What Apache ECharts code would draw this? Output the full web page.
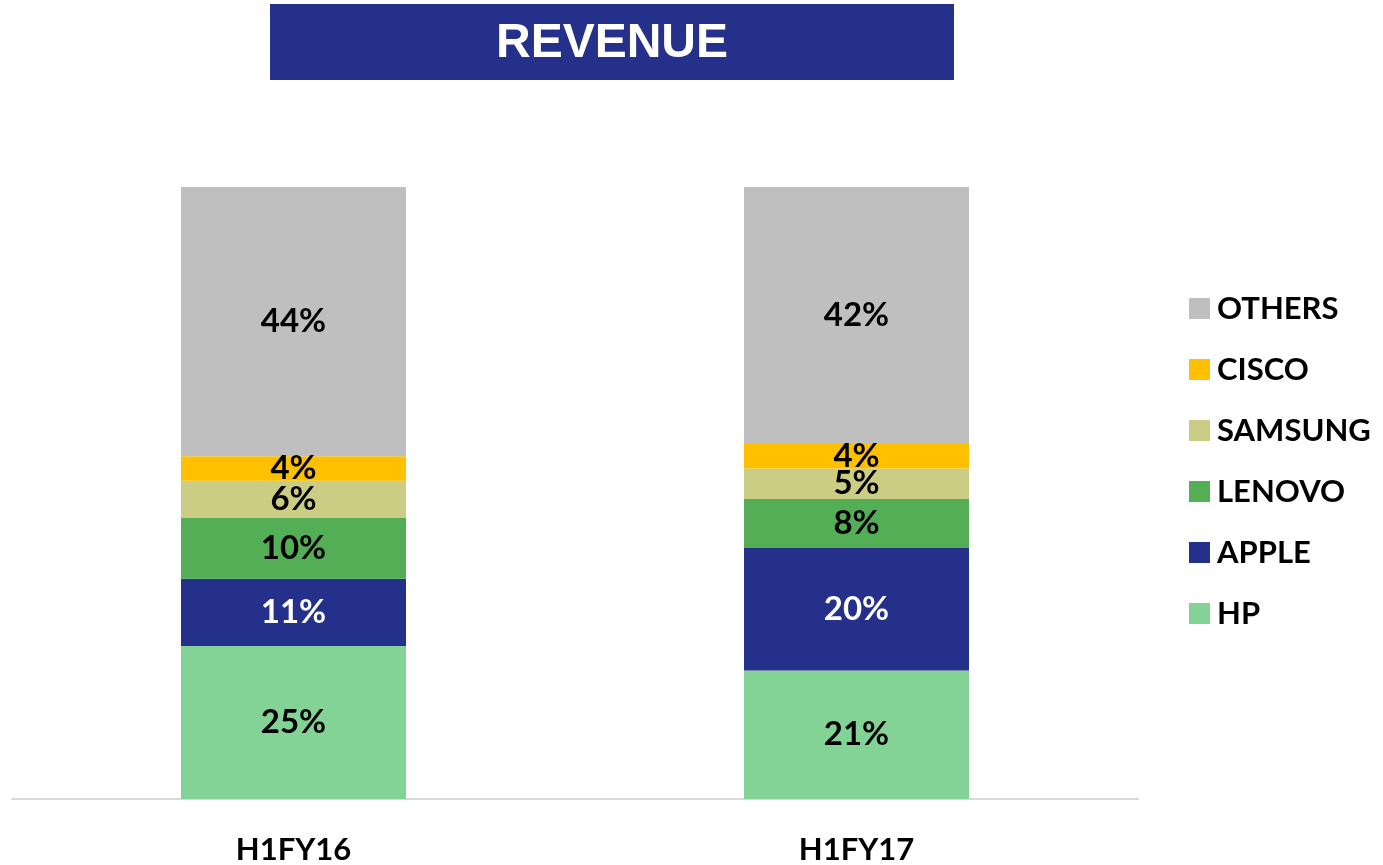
<!DOCTYPE html>
<html>
<head>
<meta charset="utf-8">
<script src="https://cdn.jsdelivr.net/npm/echarts@6/dist/echarts.min.js"></script>
<style>
html,body{margin:0;padding:0;background:#fff;}
#chart{width:1383px;height:865px;}
</style>
</head>
<body>
<div id="chart"></div>
<script>
const categories = ['H1FY16', 'H1FY17'];
const seriesNames = ['HP', 'APPLE', 'LENOVO', 'SAMSUNG', 'CISCO', 'OTHERS'];
const hp = [25, 21];
const apple = [11, 20];
const lenovo = [10, 8];
const samsung = [6, 5];
const cisco = [4, 4];
const others = [44, 42];
const titleText = 'REVENUE';

const values = [hp, apple, lenovo, samsung, cisco, others];
const colors = ['#83D396', '#243089', '#54AE55', '#CCCD85', '#FFC000', '#BFBFBF'];
const labelColors = ['#000', '#fff', '#000', '#000', '#000', '#000'];
const FONT = 'Lato';

const chart = echarts.init(document.getElementById('chart'));
chart.setOption({
  animation: false,
  graphic: [
    { type: 'rect', shape: { x: 270, y: 4, width: 684, height: 76 }, style: { fill: '#243089' } },
    { type: 'text', x: 612, y: 44, style: { text: titleText, fill: '#fff', font: 'bold 48px "Liberation Sans", Arial, sans-serif', textAlign: 'center', textVerticalAlign: 'middle' } }
  ],
  grid: { left: 12, right: 245, top: 187, bottom: 60, containLabel: false },
  legend: {
    orient: 'vertical',
    left: 1184,
    top: 288,
    itemWidth: 21,
    itemHeight: 21,
    itemGap: 30,
    icon: 'rect',
    data: seriesNames.slice().reverse(),
    textStyle: { fontFamily: FONT, fontWeight: 'bold', fontSize: 31, color: '#000', padding: [0, 0, 0, 2] }
  },
  xAxis: {
    type: 'category',
    data: categories,
    axisLine: { lineStyle: { color: '#D9D9D9', width: 2 } },
    axisTick: { show: false },
    axisLabel: { fontFamily: FONT, fontWeight: 'bold', fontSize: 31, color: '#000', margin: 35 }
  },
  yAxis: { type: 'value', min: 0, max: 100, show: false, splitLine: { show: false } },
  series: seriesNames.map((name, i) => ({
    name: name,
    type: 'bar',
    stack: 'total',
    barWidth: 225,
    data: values[i],
    itemStyle: { color: colors[i] },
    label: {
      show: true,
      position: 'inside',
      formatter: '{c}%',
      fontFamily: FONT,
      fontWeight: 'bold',
      fontSize: 33,
      color: labelColors[i],
      textBorderWidth: 0
    }
  }))
});
</script>
</body>
</html>
